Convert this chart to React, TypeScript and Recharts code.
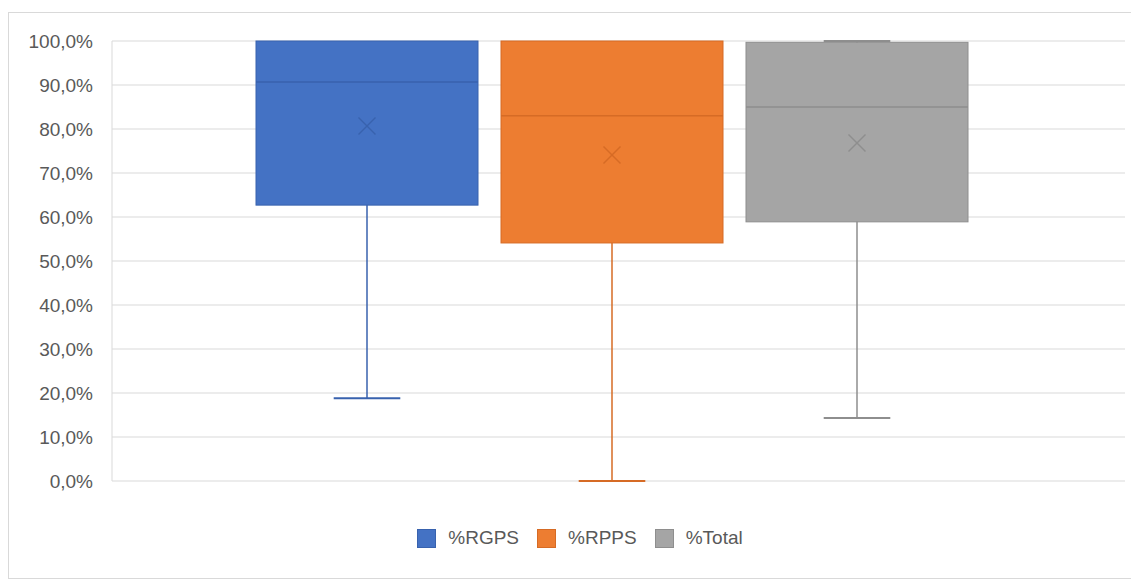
import { ComposedChart, Bar, XAxis, YAxis, CartesianGrid, Legend } from "recharts";

const seriesNames = ["%RGPS", "%RPPS", "%Total"];
const minVals = [0.188, 0.0, 0.143];
const q1Vals = [0.627, 0.541, 0.589];
const medianVals = [0.907, 0.83, 0.85];
const meanVals = [0.807, 0.741, 0.768];
const q3Vals = [1.0, 1.0, 0.997];
const maxVals = [1.0, 1.0, 1.0];
const yTicks = [0, 0.1, 0.2, 0.3, 0.4, 0.5, 0.6, 0.7, 0.8, 0.9, 1.0];

const fills = ["#4472C4", "#ED7D31", "#A5A5A5"];
const darks = ["#3862AE", "#D66B25", "#8E8E8E"];

const FONT = "'Liberation Sans', Arial, sans-serif";

// one category, three ranged bars spanning min..max
const data = [
	seriesNames.reduce(
		(row: any, _n, i) => {
			row["s" + i] = [minVals[i], maxVals[i]];
			return row;
		},
		{ name: "all" }
	),
];

function BoxShape(props: any) {
	const { x, y, width, height, idx } = props;
	const lo = minVals[idx];
	const hi = maxVals[idx];
	const px = (v: number) => y + ((hi - v) / (hi - lo)) * height;
	const cx = x + width / 2;
	const capHalf = width * 0.15;
	const top = px(q3Vals[idx]);
	const bottom = px(q1Vals[idx]);
	const med = px(medianVals[idx]);
	const mean = px(meanVals[idx]);
	const dark = darks[idx];
	const m = 8.5;
	return (
		<g>
			<line x1={cx} x2={cx} y1={px(maxVals[idx])} y2={px(minVals[idx])} stroke={dark} strokeWidth={1.5} />
			{q3Vals[idx] < maxVals[idx] && (
				<line x1={cx - capHalf} x2={cx + capHalf} y1={px(maxVals[idx])} y2={px(maxVals[idx])} stroke={dark} strokeWidth={2} />
			)}
			<line x1={cx - capHalf} x2={cx + capHalf} y1={px(minVals[idx])} y2={px(minVals[idx])} stroke={dark} strokeWidth={2} />
			<rect x={x} y={top} width={width} height={bottom - top} fill={fills[idx]} stroke={dark} strokeWidth={1} />
			<line x1={x} x2={x + width} y1={med} y2={med} stroke={dark} strokeWidth={1.5} />
			<line x1={cx - m} x2={cx + m} y1={mean - m} y2={mean + m} stroke={dark} strokeWidth={1.5} />
			<line x1={cx - m} x2={cx + m} y1={mean + m} y2={mean - m} stroke={dark} strokeWidth={1.5} />
		</g>
	);
}

function LegendContent() {
	return (
		<div style={{ height: 20, display: "flex", justifyContent: "center", alignItems: "center", fontFamily: FONT, fontSize: 19, color: "#595959" }}>
			{seriesNames.map((n, i) => (
				<div key={n} style={{ display: "flex", alignItems: "center", marginRight: i < 2 ? 18 : 0 }}>
					<div style={{ width: 19, height: 19, background: fills[i], boxSizing: "border-box", border: `1px solid ${darks[i]}`, marginRight: 12 }} />
					<span>{n}</span>
				</div>
			))}
		</div>
	);
}

export default function App() {
	return (
		<div style={{ position: "absolute", left: 0, top: 0, width: 1131, height: 580, overflow: "hidden", background: "#fff" }}>
			<div style={{ position: "absolute", left: 8, top: 12, width: 1140, height: 565, border: "1px solid #d9d9d9" }} />
			<ComposedChart
				width={1131}
				height={580}
				data={data}
				margin={{ top: 41, right: 6, bottom: 79, left: 0 }}
				barGap={23}
				style={{ position: "absolute", left: 0, top: 0 }}
			>
				<CartesianGrid vertical={false} stroke="#d9d9d9" strokeWidth={1.2} />
				<XAxis dataKey="name" hide padding={{ left: 0, right: 13 }} />
				<YAxis
					width={112}
					domain={[0, 1]}
					ticks={yTicks}
					tickLine={false}
					tickSize={0}
					tickMargin={19}
					axisLine={{ stroke: "#d9d9d9" }}
					tick={{ fill: "#595959", fontSize: 19, fontFamily: FONT }}
					tickFormatter={(v: number) => (v * 100).toFixed(1).replace(".", ",") + "%"}
				/>
				<Legend verticalAlign="bottom" content={<LegendContent />} wrapperStyle={{ bottom: 32, left: 0, width: 1160 }} />
				{seriesNames.map((n, i) => (
					<Bar
						key={n}
						dataKey={"s" + i}
						name={n}
						barSize={222}
						fill={fills[i]}
						isAnimationActive={false}
						shape={(p: any) => <BoxShape {...p} idx={i} />}
					/>
				))}
			</ComposedChart>
		</div>
	);
}
